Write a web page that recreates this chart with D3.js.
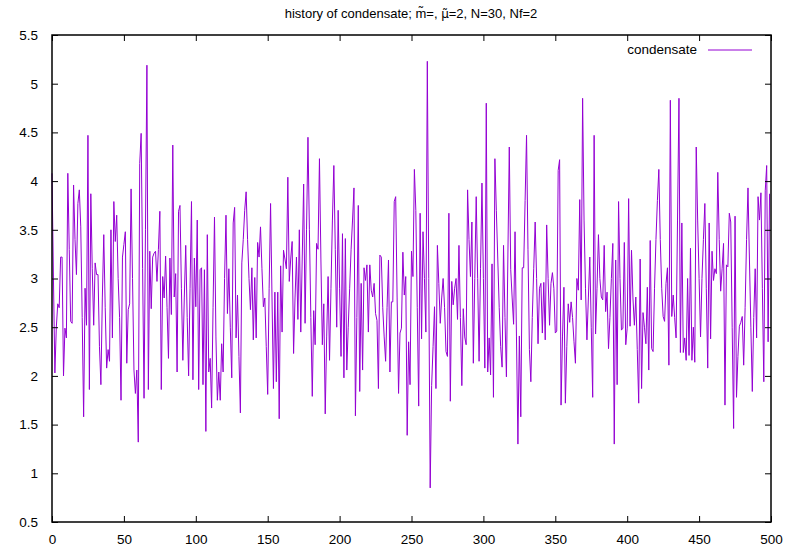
<!DOCTYPE html>
<html>
<head>
<meta charset="utf-8">
<script src="https://cdn.jsdelivr.net/npm/d3@7"></script>
<style>
  html, body { margin: 0; padding: 0; background: #fff; }
  svg { display: block; font-family: "Liberation Sans", Arial, Helvetica, sans-serif; }
</style>
</head>
<body>
<svg id="chart" width="799" height="548"></svg>
<script>
// condensate value per Monte Carlo step (step = array index)
const condensate = [
  4.08, 3.0, 2.03, 2.5, 2.74, 2.7, 3.22, 3.22, 2.0, 2.49,
  2.39, 4.08, 3.3, 2.56, 2.54, 3.96, 3.4, 3.04, 3.77, 3.91,
  3.53, 2.6, 1.58, 2.9, 2.52, 4.47, 1.86, 3.87, 3.1, 2.52,
  3.16, 3.04, 3.04, 2.3, 1.91, 2.8, 3.45, 2.7, 2.08, 2.27,
  2.15, 3.5, 2.39, 3.79, 3.38, 3.65, 3.0, 2.6, 1.75, 3.22,
  3.35, 3.48, 2.13, 2.68, 2.74, 3.92, 3.0, 2.06, 1.82, 2.06,
  1.32, 4.18, 4.49, 3.1, 1.77, 3.5, 5.19, 1.86, 3.28, 2.69,
  3.22, 3.26, 3.28, 2.97, 3.3, 3.69, 1.86, 3.02, 2.8, 3.23,
  2.7, 2.18, 3.21, 2.63, 4.37, 2.81, 3.05, 2.04, 3.69, 3.75,
  2.9, 2.16, 2.8, 3.34, 2.6, 2.0, 2.9, 3.79, 1.96, 3.21,
  2.71, 3.6, 1.86, 3.09, 3.11, 1.91, 3.09, 1.43, 3.45, 2.04,
  2.18, 1.67, 2.7, 3.63, 2.4, 1.75, 2.04, 1.75, 2.33, 2.04,
  3.0, 3.65, 2.64, 3.1, 2.5, 1.98, 3.57, 3.73, 2.39, 2.83,
  2.2, 1.62, 3.16, 3.4, 3.7, 3.89, 3.4, 3.0, 2.68, 3.11,
  2.37, 3.01, 2.39, 3.37, 3.22, 3.53, 3.1, 2.71, 2.8, 2.3,
  1.81, 2.9, 3.77, 2.8, 1.87, 2.86, 1.94, 2.86, 1.56, 3.13,
  2.45, 3.29, 3.2, 3.1, 4.04, 2.97, 3.2, 3.38, 2.23, 2.8,
  3.22, 2.58, 3.5, 2.45, 3.2, 3.97, 2.54, 3.5, 4.45, 3.5,
  2.6, 1.79, 2.67, 2.32, 3.36, 3.3, 4.23, 3.2, 2.32, 2.74,
  1.61, 2.4, 3.02, 2.16, 2.9, 3.6, 4.16, 3.3, 2.5, 3.7,
  2.9, 2.2, 3.46, 1.98, 3.41, 2.06, 2.5, 2.9, 3.3, 3.6,
  3.93, 1.59, 2.6, 3.75, 1.84, 2.95, 2.06, 3.11, 2.98, 3.14,
  2.45, 3.14, 2.88, 2.81, 2.95, 2.64, 2.57, 1.87, 3.24, 3.22,
  2.7, 2.4, 2.15, 2.7, 3.19, 2.04, 2.76, 2.76, 3.79, 3.84,
  2.8, 1.82, 2.44, 2.49, 3.27, 2.83, 3.02, 1.39, 2.35, 1.91,
  3.28, 3.02, 4.12, 3.7, 2.7, 1.69, 3.67, 2.38, 3.48, 3.0,
  2.45, 5.23, 3.0, 0.85, 1.9, 2.3, 2.71, 1.87, 3.34, 2.95,
  2.54, 2.8, 3.0, 2.7, 2.25, 2.2, 3.67, 1.74, 2.97, 2.73,
  2.9, 3.0, 2.58, 3.34, 2.6, 1.9, 2.69, 2.4, 2.32, 3.91,
  3.4, 3.02, 3.58, 2.13, 3.0, 3.84, 3.0, 2.15, 3.1, 3.98,
  3.0, 2.08, 4.8, 2.04, 2.39, 2.01, 3.15, 1.78, 4.23, 3.7,
  3.2, 2.7, 2.3, 2.09, 3.34, 2.6, 1.99, 3.2, 4.35, 3.09,
  2.8, 2.53, 3.48, 2.4, 1.3, 2.41, 1.58, 3.11, 3.11, 3.8,
  4.47, 3.3, 2.27, 1.94, 2.6, 3.1, 3.58, 3.0, 2.33, 2.9,
  2.95, 2.44, 2.96, 2.37, 3.55, 3.0, 2.52, 2.95, 3.06, 2.9,
  2.44, 2.46, 4.11, 4.22, 1.7, 2.4, 2.91, 1.72, 2.3, 2.74,
  2.55, 2.76, 2.6, 2.35, 2.13, 3.0, 2.88, 3.81, 2.78, 4.85,
  3.6, 2.9, 2.37, 2.8, 3.22, 2.5, 1.78, 4.47, 2.43, 2.9,
  3.45, 3.0, 2.81, 2.78, 3.34, 2.66, 2.86, 2.28, 2.6, 3.0,
  3.36, 1.3, 3.19, 1.91, 3.79, 3.0, 2.47, 2.49, 3.37, 2.32,
  2.49, 3.82, 2.51, 3.29, 2.8, 2.52, 2.81, 2.27, 1.72, 3.2,
  1.87, 2.65, 2.5, 2.33, 2.91, 2.06, 3.39, 2.28, 2.25, 2.9,
  3.4, 3.8, 4.12, 3.4, 2.9, 2.61, 2.56, 2.95, 3.11, 2.11,
  4.83, 2.61, 2.83, 2.6, 2.39, 3.6, 4.85, 2.24, 3.57, 2.24,
  2.39, 2.16, 3.0, 2.21, 3.31, 2.16, 2.5, 2.14, 4.35, 3.6,
  3.0, 2.4, 3.0, 3.4, 3.77, 2.9, 2.08, 3.57, 2.38, 3.28,
  2.98, 3.1, 3.05, 4.09, 3.4, 2.87, 3.1, 3.36, 1.7, 3.14,
  3.12, 3.67, 3.58, 2.5, 1.46, 3.64, 1.78, 2.2, 2.51, 2.55,
  2.61, 2.11, 2.7, 3.4, 3.93, 3.2, 2.5, 1.84, 2.6, 3.1,
  2.39, 3.84, 3.6, 3.88, 2.9, 1.94, 3.9, 4.16, 2.35, 3.87
];

const xTickValues = [0, 50, 100, 150, 200, 250, 300, 350, 400, 450, 500];
const yTickValues = [0.5, 1, 1.5, 2, 2.5, 3, 3.5, 4, 4.5, 5, 5.5];
// title pieces; the accented mu is set in DejaVu Sans so the combining tilde sits on it
const titleParts = ["history of condensate; m\u0303=, ", "\u03BC\u0303", "=2, N=30, Nf=2"];
const seriesName = "condensate";

(function () {
  const svg = d3.select("#chart");
  const plotLeft = 52, plotRight = 771, plotTop = 35, plotBottom = 522;
  const tickLen = 6;
  const lineColor = "#9400d3";
  const font = "'Liberation Sans', Arial, Helvetica, sans-serif";

  const x = d3.scaleLinear().domain([0, 500]).range([plotLeft, plotRight]);
  const y = d3.scaleLinear().domain([0.5, 5.5]).range([plotBottom, plotTop]);

  // title
  const title = svg.append("text")
    .attr("x", 411).attr("y", 18)
    .attr("text-anchor", "middle")
    .attr("font-size", 13);
  title.append("tspan").text(titleParts[0]);
  title.append("tspan").attr("font-family", "'DejaVu Sans'").attr("font-size", 12).text(titleParts[1]);
  title.append("tspan").text(titleParts[2]);

  // data line
  const line = d3.line()
    .x((d, i) => x(i))
    .y(d => y(d));

  svg.append("path")
    .datum(condensate)
    .attr("fill", "none")
    .attr("stroke", lineColor)
    .attr("stroke-width", 1)
    .attr("d", line);

  // axes: inward ticks on all four sides, labels on bottom and left
  const fmt = d => String(d);

  const bottomAxis = svg.append("g")
    .attr("transform", `translate(0,${plotBottom})`)
    .call(d3.axisBottom(x).tickValues(xTickValues).tickSize(-tickLen).tickPadding(tickLen + 6).tickFormat(fmt));
  const leftAxis = svg.append("g")
    .attr("transform", `translate(${plotLeft},0)`)
    .call(d3.axisLeft(y).tickValues(yTickValues).tickSize(-tickLen).tickPadding(tickLen + 8).tickFormat(fmt));
  const topAxis = svg.append("g")
    .attr("transform", `translate(0,${plotTop})`)
    .call(d3.axisTop(x).tickValues(xTickValues).tickSize(-tickLen).tickFormat(""));
  const rightAxis = svg.append("g")
    .attr("transform", `translate(${plotRight},0)`)
    .call(d3.axisRight(y).tickValues(yTickValues).tickSize(-tickLen).tickFormat(""));

  [bottomAxis, leftAxis, topAxis, rightAxis].forEach(g => {
    g.select(".domain").remove();
    g.selectAll(".tick line").attr("stroke", "#000").attr("stroke-width", 1);
    g.selectAll(".tick text")
      .attr("fill", "#000")
      .attr("font-size", 13.5)
      .attr("font-family", font);
  });

  // plot border
  svg.append("rect")
    .attr("x", plotLeft).attr("y", plotTop)
    .attr("width", plotRight - plotLeft).attr("height", plotBottom - plotTop)
    .attr("fill", "none")
    .attr("stroke", "#000")
    .attr("stroke-width", 1.5);

  // legend
  const legend = svg.append("g");
  legend.append("text")
    .attr("x", 697).attr("y", 54)
    .attr("text-anchor", "end")
    .attr("font-size", 13.5)
    .text(seriesName);
  legend.append("line")
    .attr("x1", 708).attr("x2", 752)
    .attr("y1", 50).attr("y2", 50)
    .attr("stroke", lineColor)
    .attr("stroke-width", 1);
})();
</script>
</body>
</html>
